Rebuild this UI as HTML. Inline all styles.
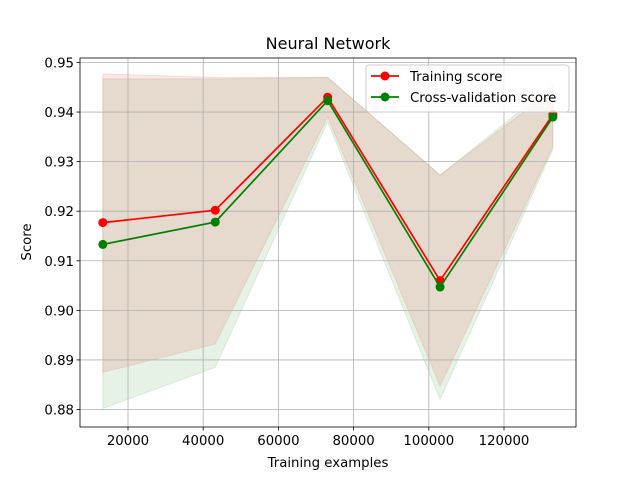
<!DOCTYPE html>
<html><head><meta charset="utf-8"><style>
body{margin:0;background:#fff;font-family:"Liberation Sans","DejaVu Sans",sans-serif}
svg text{font-family:"DejaVu Sans","Liberation Sans",sans-serif}
</style></head><body>
<svg id="chart" width="640" height="480" xmlns="http://www.w3.org/2000/svg">
<rect width="640" height="480" fill="#fff"/>
<g id="bands"></g><g id="grid"></g><g id="lines"></g><g id="axes"></g>
</svg>
<script>
const sizes=[13300,43200,73100,103000,133000];
const trainScore=[0.9177,0.9202,0.9430,0.9060,0.9395];
const cvScore=[0.9133,0.9178,0.9423,0.9047,0.9390];
const trainUpper=[0.9477,0.9470,0.9470,0.9273,0.9445];
const trainLower=[0.8875,0.8932,0.9390,0.8847,0.9330];
const cvUpper=[0.9467,0.9467,0.9470,0.9273,0.9455];
const cvLower=[0.8802,0.8885,0.9380,0.8820,0.9325];
const xTicks=[20000,40000,60000,80000,100000,120000];
const yTicks=[0.88,0.89,0.90,0.91,0.92,0.93,0.94,0.95];
const L=80,R=576,T=58,B=427;
const xs=v=>52.8+v*0.00376;
const ys=v=>62.5+(0.95-v)*4957;
const NS="http://www.w3.org/2000/svg";
function mk(tag,attrs,parent){const e=document.createElementNS(NS,tag);for(const k in attrs)e.setAttribute(k,attrs[k]);document.getElementById(parent).appendChild(e);return e;}
function band(up,lo,col,name){const pts=sizes.map((s,i)=>xs(s)+','+ys(up[i])).concat(sizes.map((s,i)=>xs(s)+','+ys(lo[i])).reverse());const p=mk('polygon',{points:pts.join(' '),fill:col,'fill-opacity':0.1,stroke:col,'stroke-opacity':0.1},'bands');

}
band(trainUpper,trainLower,'#ff0000','training-band');
band(cvUpper,cvLower,'#008000','cv-band');
xTicks.forEach(t=>{const x=xs(t);mk('line',{x1:x,x2:x,y1:T,y2:B,stroke:'#b0b0b0','stroke-width':0.8},'grid');mk('line',{x1:x,x2:x,y1:B,y2:B+3.5,stroke:'#000','stroke-width':0.8},'axes');const tx=mk('text',{x:x,y:B+18,'font-size':13.3,'text-anchor':'middle'},'axes');tx.textContent=t;

});
yTicks.forEach(t=>{const y=ys(t);mk('line',{x1:L,x2:R,y1:y,y2:y,stroke:'#b0b0b0','stroke-width':0.8},'grid');mk('line',{x1:L-3.5,x2:L,y1:y,y2:y,stroke:'#000','stroke-width':0.8},'axes');const tx=mk('text',{x:L-6,y:y+5,'font-size':13.3,'text-anchor':'end'},'axes');tx.textContent=t.toFixed(2);

});
function series(vals,col,name){mk('polyline',{points:sizes.map((s,i)=>xs(s)+','+ys(vals[i])).join(' '),fill:'none',stroke:col,'stroke-width':1.7},'lines');
vals.forEach((v,i)=>{const c=mk('circle',{cx:xs(sizes[i]),cy:ys(v),r:4.5,fill:col},'lines');

});}
series(trainScore,'#ff0000','training-score');
series(cvScore,'#008000','cv-score');
mk('rect',{x:L,y:T,width:R-L,height:B-T,fill:'none',stroke:'#000','stroke-width':0.8},'axes');
const ax=document.getElementById('axes');
ax.insertAdjacentHTML('beforeend',`
<text x="328" y="49" font-size="16" text-anchor="middle">Neural Network</text>
<text x="328" y="467" font-size="13.3" text-anchor="middle">Training examples</text>
<text x="0" y="0" font-size="13.3" text-anchor="middle" transform="translate(31,242) rotate(-90)">Score</text>
<g>
<rect x="366" y="65" width="203" height="47" rx="3" fill="#fff" fill-opacity="0.8" stroke="#ccc"/>
<line x1="371" x2="399" y1="76" y2="76" stroke="#ff0000" stroke-width="1.7"/><circle cx="385" cy="76" r="4.5" fill="#ff0000"/>
<text x="410" y="81" font-size="13.3">Training score</text>
<line x1="371" x2="399" y1="97" y2="97" stroke="#008000" stroke-width="1.7"/><circle cx="385" cy="97" r="4.5" fill="#008000"/>
<text x="410" y="102" font-size="13.3">Cross-validation score</text>
</g>`);
</script>
</body></html>
